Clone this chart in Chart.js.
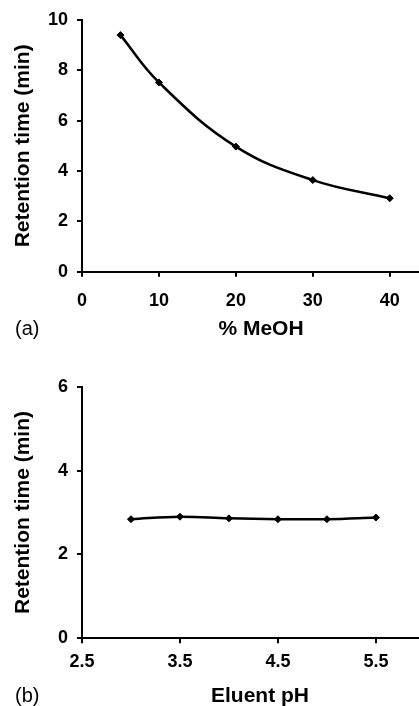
<!DOCTYPE html>
<html>
<head>
<meta charset="utf-8">
<script src="https://cdn.jsdelivr.net/npm/chart.js@4/dist/chart.umd.min.js"></script>
<style>
  html, body { margin: 0; padding: 0; background: #fff; }
  body { width: 419px; height: 706px; position: relative; overflow: hidden; }
  .panel { position: absolute; left: 0; width: 419px; }
  #panelA { top: 0; height: 345px; }
  #panelB { top: 350px; height: 356px; }
</style>
</head>
<body>
<div class="panel" id="panelA"><canvas id="chartA" width="419" height="345"></canvas></div>
<div class="panel" id="panelB"><canvas id="chartB" width="419" height="356"></canvas></div>
<script>
// (a) retention time vs methanol content
const meohPercent = [5, 10, 20, 30, 40];
const meohRetention = [9.40, 7.52, 4.97, 3.64, 2.92];
const meohTicks = [0, 10, 20, 30, 40];
const meohRtTicks = [0, 2, 4, 6, 8, 10];

// (b) retention time vs eluent pH
const eluentPh = [3.0, 3.5, 4.0, 4.5, 5.0, 5.5];
const phRetention = [2.84, 2.90, 2.86, 2.84, 2.84, 2.88];
const phTicks = [2.5, 3.5, 4.5, 5.5];
const phRtTicks = [0, 2, 4, 6];

const FONT = '"Liberation Sans", Arial, Helvetica, sans-serif';

// axis title under the plot plus the (a)/(b) panel tag
const panelText = {
    id: 'panelText',
    afterDraw(chart, args, opts) {
        const ctx = chart.ctx;
        ctx.save();
        ctx.fillStyle = '#000';
        ctx.textBaseline = 'middle';
        ctx.textAlign = 'center';
        ctx.font = 'bold 21px ' + FONT;
        ctx.fillText(opts.title, opts.titleX, opts.y);
        ctx.textAlign = 'left';
        ctx.font = '20px ' + FONT;
        ctx.fillText(opts.label, opts.labelX, opts.y);
        ctx.restore();
    }
};

function fixedTicks(values) {
    return scale => { scale.ticks = values.map(v => ({ value: v })); };
}

function makeChart(canvasId, xs, ys, cfg) {
    return new Chart(document.getElementById(canvasId), {
        type: 'line',
        data: {
            datasets: [{
                data: xs.map((x, i) => ({ x, y: ys[i] })),
                borderColor: '#000',
                backgroundColor: '#000',
                borderWidth: 2.5,
                tension: 0.4,
                pointStyle: 'rectRot',
                pointRadius: 3.5,
                pointBorderWidth: 1,
                fill: false
            }]
        },
        options: {
            responsive: false,
            animation: false,
            layout: { autoPadding: false, padding: { top: cfg.padTop, left: 0, right: 0, bottom: 0 } },
            scales: {
                x: {
                    type: 'linear',
                    min: cfg.xMin,
                    max: cfg.xMax,
                    afterBuildTicks: fixedTicks(cfg.xTicks),
                    afterFit: s => { s.height = cfg.xHeight; },
                    border: { display: true, color: '#000', width: 2 },
                    grid: { drawOnChartArea: false, drawTicks: true, tickLength: 5, color: '#000', lineWidth: 2 },
                    ticks: {
                        color: '#000',
                        padding: cfg.xTickPad,
                        maxRotation: 0,
                        autoSkip: false,
                        font: { family: FONT, size: 18, weight: 'bold' },
                        callback: v => cfg.xFmt(v)
                    }
                },
                y: {
                    min: cfg.yMin,
                    max: cfg.yMax,
                    afterBuildTicks: fixedTicks(cfg.yTicks),
                    afterFit: s => { s.width = 82; },
                    border: { display: true, color: '#000', width: 2 },
                    grid: { drawOnChartArea: false, drawTicks: true, tickLength: 5, color: '#000', lineWidth: 2 },
                    ticks: {
                        color: '#000',
                        padding: 9,
                        autoSkip: false,
                        font: { family: FONT, size: 18, weight: 'bold' }
                    },
                    title: {
                        display: true,
                        text: 'Retention time (min)',
                        color: '#000',
                        padding: { top: 11, bottom: 0 },
                        font: { family: FONT, size: 21, weight: 'bold' }
                    }
                }
            },
            plugins: {
                legend: { display: false },
                tooltip: { enabled: false },
                panelText: cfg.text
            }
        },
        plugins: [panelText]
    });
}

makeChart('chartA', meohPercent, meohRetention, {
    padTop: 20, xHeight: 73.3, xTickPad: 14,
    xMin: 0, xMax: 43.8, xTicks: meohTicks, xFmt: v => String(v),
    yMin: 0, yMax: 10, yTicks: meohRtTicks,
    text: { title: '% MeOH', titleX: 261, label: '(a)', labelX: 15, y: 329.5 }
});

makeChart('chartB', eluentPh, phRetention, {
    padTop: 36.7, xHeight: 67.7, xTickPad: 8,
    xMin: 2.5, xMax: 5.94, xTicks: phTicks, xFmt: v => v.toFixed(1),
    yMin: 0, yMax: 6, yTicks: phRtTicks,
    text: { title: 'Eluent pH', titleX: 260, label: '(b)', labelX: 15, y: 346.5 }
});
</script>
</body>
</html>
